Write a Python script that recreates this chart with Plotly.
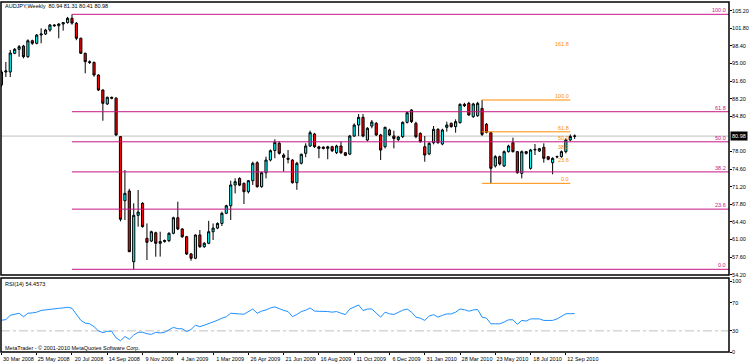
import plotly.graph_objects as go
import pandas as pd

title_text = "AUDJPY,Weekly  80.94 81.31 80.41 80.98"
rsi_title = "RSI(14) 54.4573"
copyright_text = "MetaTrader - \u00a9 2001-2010 MetaQuotes Software Corp."
last_price_label = "80.98"

weeks = pd.date_range("2008-03-30", periods=131, freq="7D")

opens = [90.85, 93.36, 93.36, 96.97, 97.74, 98.38, 96.31, 99.40, 98.90, 100.50,
         100.70, 101.47, 102.44, 102.30, 102.63, 102.90, 103.73, 102.77, 99.87, 96.97,
         95.35, 95.20, 92.78, 89.88, 87.18, 88.47, 88.30, 80.86, 68.49, 70.37,
         56.70, 65.67, 67.99, 61.22, 60.70, 62.30, 60.26, 60.60, 60.77, 62.20,
         65.20, 63.03, 61.54, 58.20, 57.37, 61.87, 59.60, 60.26, 62.50, 63.20,
         64.10, 66.06, 67.52, 71.53, 72.80, 71.85, 70.23, 72.36, 75.83, 71.20,
         73.90, 76.35, 78.20, 79.60, 77.32, 76.70, 76.35, 71.97, 75.72, 77.65,
         79.06, 81.38, 78.90, 78.85, 78.60, 78.92, 77.77, 79.06, 77.77, 77.50,
         80.99, 83.11, 84.60, 80.22, 82.92, 83.44, 81.19, 78.92, 82.15, 81.00,
         80.30, 80.86, 83.64, 86.02, 83.44, 81.50, 78.92, 77.52, 79.70, 82.28,
         79.45, 82.67, 83.44, 82.80, 83.57, 87.11, 87.30, 84.73, 84.90, 86.34,
         83.25, 81.64, 75.20, 77.00, 75.20, 77.97, 79.70, 77.97, 73.78, 77.97,
         74.75, 78.30, 78.10, 78.80, 77.00, 75.84, 76.95, 77.00, 77.97, 80.22,
         80.94]
highs = [93.74, 95.30, 97.61, 98.00, 98.57, 98.60, 99.67, 99.60, 100.70, 101.80,
         101.70, 102.63, 102.60, 102.77, 103.00, 104.00, 104.50, 103.00, 100.00, 97.10,
         95.60, 95.40, 92.90, 90.00, 88.60, 88.60, 88.50, 81.00, 74.42, 70.80,
         68.00, 70.56, 68.20, 64.10, 62.70, 62.50, 62.50, 61.00, 62.40, 65.40,
         68.30, 63.20, 61.70, 58.40, 62.00, 62.83, 60.50, 64.60, 64.10, 64.30,
         66.37, 67.70, 72.36, 72.82, 73.00, 72.00, 72.50, 76.03, 76.10, 74.10,
         77.00, 78.40, 80.36, 80.00, 77.65, 78.28, 76.50, 76.00, 77.60, 79.58,
         82.02, 81.60, 79.10, 79.00, 79.10, 79.10, 79.30, 79.90, 77.90, 81.20,
         83.44, 85.24, 85.24, 82.70, 84.08, 83.70, 81.40, 82.79, 82.40, 82.02,
         81.00, 83.80, 85.70, 86.15, 83.76, 81.70, 80.99, 79.80, 82.92, 82.50,
         82.40, 83.76, 83.60, 84.21, 87.30, 87.40, 87.60, 87.40, 87.60, 87.95,
         83.50, 81.80, 77.30, 77.20, 78.20, 79.30, 80.67, 78.10, 78.20, 78.10,
         78.50, 79.45, 78.70, 79.58, 77.10, 76.90, 77.20, 78.20, 80.54, 81.30,
         81.31]
lows = [90.46, 92.40, 92.39, 96.80, 96.31, 96.00, 96.10, 98.60, 98.70, 98.90,
        100.50, 101.14, 102.10, 99.87, 101.34, 102.70, 102.50, 99.50, 96.84, 93.11,
        94.90, 92.45, 89.70, 83.95, 87.00, 88.10, 81.00, 64.50, 64.76, 58.58,
        55.24, 63.47, 63.30, 57.03, 60.50, 57.67, 57.70, 60.40, 60.50, 62.00,
        62.80, 61.30, 58.00, 56.90, 57.20, 59.40, 59.40, 60.10, 60.90, 63.00,
        63.60, 65.90, 64.76, 69.90, 71.30, 67.85, 69.90, 71.53, 71.00, 71.00,
        72.80, 76.10, 76.70, 77.40, 74.10, 75.70, 71.80, 70.60, 75.50, 76.88,
        78.90, 78.70, 76.70, 78.40, 76.50, 77.90, 77.50, 77.50, 77.10, 77.30,
        80.80, 81.00, 80.74, 80.00, 82.48, 81.00, 76.35, 78.60, 81.00, 78.60,
        80.00, 80.60, 83.40, 83.50, 80.55, 79.70, 76.03, 77.30, 79.38, 79.50,
        79.20, 81.83, 82.60, 81.64, 83.40, 86.60, 84.90, 84.50, 84.70, 81.00,
        81.50, 71.85, 74.90, 75.30, 75.00, 77.80, 77.80, 73.70, 72.81, 77.40,
        74.50, 77.32, 77.90, 75.84, 76.30, 73.59, 76.70, 76.80, 77.64, 80.00,
        80.41]
closes = [93.36, 93.55, 97.03, 97.74, 98.25, 96.31, 99.40, 98.90, 100.50, 100.70,
          101.47, 102.44, 102.30, 102.63, 102.90, 103.73, 102.80, 99.87, 96.97, 95.35,
          95.20, 92.78, 89.88, 87.31, 88.47, 88.30, 81.19, 64.90, 69.92, 58.64,
          65.67, 66.30, 63.47, 60.45, 62.50, 60.26, 60.60, 60.80, 62.20, 65.20,
          63.03, 61.54, 58.20, 57.37, 61.87, 59.60, 60.26, 62.50, 63.20, 64.10,
          66.06, 67.52, 71.53, 72.16, 71.50, 70.23, 72.36, 75.72, 71.20, 73.90,
          76.35, 78.15, 79.77, 77.65, 76.88, 76.50, 71.97, 75.72, 77.46, 79.06,
          81.63, 78.92, 78.60, 78.60, 78.90, 78.15, 79.06, 77.77, 77.26, 80.99,
          83.11, 84.60, 80.99, 82.48, 83.69, 81.19, 78.28, 82.67, 81.19, 80.50,
          80.80, 83.64, 85.49, 83.76, 80.86, 79.89, 77.32, 79.58, 82.28, 79.70,
          82.15, 83.12, 82.80, 83.76, 87.11, 86.85, 85.05, 87.18, 87.30, 81.31,
          81.70, 74.75, 77.00, 75.58, 77.97, 79.06, 77.97, 73.91, 77.97, 77.64,
          78.29, 78.40, 78.55, 76.68, 76.50, 76.68, 77.00, 77.97, 80.22, 80.90,
          80.98]

rsi = [45, 46, 52, 54, 55, 50, 55, 55.5, 56.5, 59,
       60, 61, 61, 62, 62.5, 63.5, 62, 54, 45, 41,
       40, 36, 30, 27.5, 29.4, 29.4, 20, 16, 22, 18,
       24, 28, 28, 26, 25, 28, 27, 28, 32, 35,
       33, 33, 29, 32, 38, 36, 38, 40, 42, 45,
       48, 50, 55, 55, 54, 53.6, 57.4, 61, 55, 58,
       59.7, 62.5, 64, 61, 59, 57.4, 50.2, 53.2, 57.4, 59.3,
       62.5, 58, 58, 58, 57.4, 56.5, 57.4, 55, 53.2, 61,
       64.4, 66.7, 58.8, 61, 61, 55.5, 49.5, 56.5, 54.2, 53.2,
       56.5, 59.3, 61, 56.5, 49.5, 48, 44.8, 51, 53, 49.5,
       52, 54, 54, 56.5, 61, 60, 57.9, 59.7, 60.2, 49.5,
       48, 40, 40, 40, 42.5, 45.7, 45.7, 39.2, 44.8, 43.9,
       47, 47, 47, 44.8, 44.8, 44.8, 47, 50.8, 54.2, 54.4,
       54.5]

date_labels = ["30 Mar 2008", "25 May 2008", "20 Jul 2008", "14 Sep 2008", "9 Nov 2008",
               "4 Jan 2009", "1 Mar 2009", "26 Apr 2009", "21 Jun 2009", "16 Aug 2009",
               "11 Oct 2009", "6 Dec 2009", "31 Jan 2010", "28 Mar 2010", "23 May 2010",
               "18 Jul 2010", "12 Sep 2010"]
price_ticks = [105.20, 101.80, 98.40, 95.00, 91.60, 88.20, 84.80, 78.00,
               74.60, 71.20, 67.80, 64.40, 61.00, 57.60, 54.20]
rsi_ticks = [100, 70, 30, 0]
rsi_level = 30

fib1_high, fib1_low = 104.50, 55.24
fib1_levels = [0.0, 23.6, 38.2, 50.0, 61.8, 100.0]
fib2_high, fib2_low = 87.95, 71.85
fib2_levels = [0.0, 23.6, 38.2, 50.0, 61.8, 100.0, 161.8]
fib2_line_levels = [0.0, 61.8, 100.0]

MAGENTA = "#C71585"
ORANGE = "#FF8C00"
FONT = "Liberation Sans"
FS = 5.5

fig = go.Figure()
fig.add_trace(go.Candlestick(
    x=weeks, open=opens, high=highs, low=lows, close=closes,
    increasing=dict(fillcolor="#00FFFF", line=dict(color="black", width=1)),
    decreasing=dict(fillcolor="#FF0000", line=dict(color="black", width=1)),
    whiskerwidth=0, xaxis="x", yaxis="y", showlegend=False, hoverinfo="skip"))
fig.add_trace(go.Scatter(
    x=weeks, y=rsi, mode="lines", line=dict(color="#1E90FF", width=1),
    xaxis="x", yaxis="y2", showlegend=False, hoverinfo="skip"))

shapes = []
i_fib1 = 16
i_fib2_start, i_fib2_end = 109, 129
x_end = weeks[0] + pd.Timedelta(weeks=165)
for lv in fib1_levels:
    p = fib1_low + (fib1_high - fib1_low) * lv / 100.0
    shapes.append(dict(type="line", xref="x", yref="y", x0=weeks[i_fib1], x1=x_end,
                       y0=p, y1=p, line=dict(color=MAGENTA, width=1)))
for lv in fib2_line_levels:
    p = fib2_low + (fib2_high - fib2_low) * lv / 100.0
    shapes.append(dict(type="line", xref="x", yref="y", x0=weeks[i_fib2_start],
                       x1=weeks[i_fib2_end], y0=p, y1=p, line=dict(color=ORANGE, width=1)))
shapes.append(dict(type="line", xref="x domain", yref="y", x0=0, x1=1,
                   y0=closes[-1], y1=closes[-1], line=dict(color="#C0C0C0", width=1),
                   layer="below"))
shapes.append(dict(type="line", xref="x domain", yref="y2", x0=0, x1=1,
                   y0=rsi_level, y1=rsi_level, line=dict(color="#C0C0C0", width=1, dash="dashdot"),
                   layer="below"))
for yr in ["y domain", "y2 domain"]:
    shapes.append(dict(type="rect", xref="x domain", yref=yr, x0=0, x1=1, y0=0, y1=1,
                       line=dict(color="black", width=1.5), fillcolor="rgba(0,0,0,0)"))

annotations = []
def pix(yp):
    return (352 - yp) / 350.0

annotations.append(dict(text=title_text, xref="paper", yref="paper", x=0.003, y=pix(6),
                        xanchor="left", yanchor="middle", showarrow=False,
                        font=dict(family=FONT, size=FS, color="black")))
annotations.append(dict(text=rsi_title, xref="paper", yref="paper", x=0.003, y=pix(284),
                        xanchor="left", yanchor="middle", showarrow=False,
                        font=dict(family=FONT, size=FS, color="black")))
annotations.append(dict(text=copyright_text, xref="paper", yref="paper", x=0.003, y=pix(348),
                        xanchor="left", yanchor="middle", showarrow=False,
                        font=dict(family=FONT, size=FS, color="black")))
for lv in fib1_levels:
    p = fib1_low + (fib1_high - fib1_low) * lv / 100.0
    annotations.append(dict(text="%.1f" % lv, xref="paper", yref="y", x=0.997, y=p,
                            xanchor="right", yanchor="bottom", showarrow=False, borderpad=0,
                            font=dict(family=FONT, size=FS, color=MAGENTA)))
for lv in fib2_levels:
    p = fib2_low + (fib2_high - fib2_low) * lv / 100.0
    annotations.append(dict(text="%.1f" % lv, xref="x", yref="y", x=weeks[i_fib2_end], y=p,
                            xanchor="right", yanchor="bottom", showarrow=False, borderpad=0,
                            font=dict(family=FONT, size=FS, color=ORANGE)))
annotations.append(dict(text=last_price_label, xref="paper", yref="y", x=1, y=closes[-1],
                        xanchor="left", yanchor="middle", showarrow=False, xshift=1,
                        bgcolor="black", borderpad=1,
                        font=dict(family=FONT, size=FS, color="white")))

fig.update_layout(
    width=750, height=364,
    margin=dict(l=1, r=21, t=2, b=12),
    paper_bgcolor="white", plot_bgcolor="white",
    showlegend=False,
    shapes=shapes, annotations=annotations,
    xaxis=dict(
        anchor="y2", domain=[0, 1],
        range=[weeks[0] - pd.Timedelta(days=0.7), x_end],
        tickvals=list(weeks[::8]), ticktext=date_labels,
        ticks="outside", ticklen=2, tickcolor="black",
        tickfont=dict(family=FONT, size=FS, color="black"),
        ticklabelshift=17, ticklabelstandoff=-1, ticklabeloverflow="allow",
        showgrid=False, zeroline=False, showline=False,
        rangeslider=dict(visible=False)),
    yaxis=dict(
        domain=[0.22, 1], anchor="x", side="right",
        range=[54.14, 106.88],
        tickvals=price_ticks, ticktext=["%.2f" % v for v in price_ticks],
        ticks="outside", ticklen=2, tickcolor="black",
        tickfont=dict(family=FONT, size=FS, color="black"),
        ticklabelstandoff=-1, ticklabeloverflow="allow",
        showgrid=False, zeroline=False, showline=False),
    yaxis2=dict(
        domain=[0, 74 / 350.0], anchor="x", side="right",
        range=[0, 105],
        tickvals=rsi_ticks, ticktext=[str(v) for v in rsi_ticks],
        ticks="outside", ticklen=2, tickcolor="black",
        tickfont=dict(family=FONT, size=FS, color="black"),
        ticklabelstandoff=-1, ticklabeloverflow="allow",
        showgrid=False, zeroline=False, showline=False),
)

fig.write_html("out.html", config={"displayModeBar": False},
               post_script="document.body.style.margin='0';document.body.style.overflow='hidden';")
